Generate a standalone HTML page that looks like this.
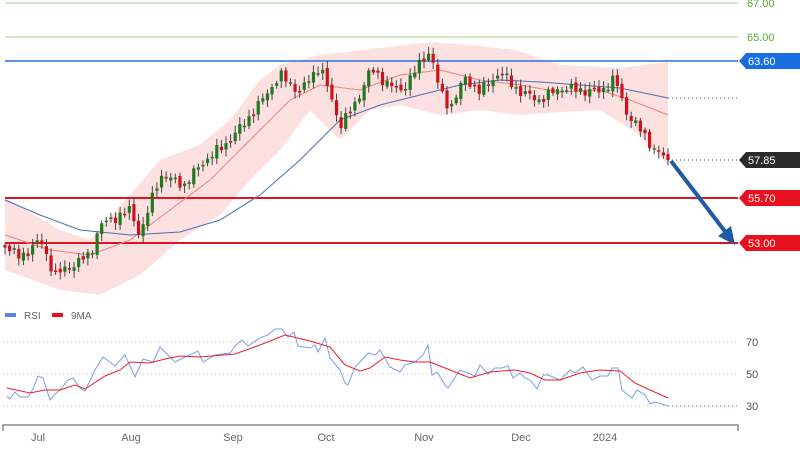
<!DOCTYPE html>
<html><head><meta charset="utf-8"><style>
html,body{margin:0;padding:0;background:#fff;width:800px;height:450px;overflow:hidden}
svg{display:block;font-family:"Liberation Sans",sans-serif}
</style></head><body>
<svg id="s" width="800" height="450" viewBox="0 0 800 450">
<polygon id="band" fill="#fde0e0" points=""/>
<line x1="5" y1="3" x2="738" y2="3" stroke="#9fd68a" stroke-width="1"/>
<line x1="5" y1="37" x2="738" y2="37" stroke="#9fd68a" stroke-width="1"/>
<text x="747" y="7" font-size="11" fill="#5aa832">67.00</text>
<text x="747" y="41" font-size="11" fill="#5aa832">65.00</text>
<line x1="5" y1="61" x2="738" y2="61" stroke="#2f6fd6" stroke-width="1.5"/>
<line x1="5" y1="198" x2="738" y2="198" stroke="#e0141e" stroke-width="2"/>
<line x1="5" y1="243" x2="738" y2="243" stroke="#e0141e" stroke-width="2"/>
<line x1="668" y1="98" x2="738" y2="98" stroke="#2f5fa0" stroke-width="1" stroke-dasharray="1,3"/>
<line x1="668" y1="160" x2="738" y2="160" stroke="#333" stroke-width="1" stroke-dasharray="1,3"/>
<polyline fill="none" stroke="#f08080" stroke-width="1" points="5,235 50,250 90,255 130,240 170,210 210,180 250,140 290,100 320,85 360,90 400,75 440,70 480,80 520,85 560,92 600,90 630,100 668,115"/>
<polyline fill="none" stroke="#4a70b0" stroke-width="1" points="5,200 40,215 80,230 130,235 180,232 220,220 260,195 300,160 340,120 380,105 420,95 460,85 500,80 540,82 580,85 620,88 668,98"/>
<g id="candles"></g>
<line x1="671" y1="161" x2="727" y2="234" stroke="#1f5ba3" stroke-width="4"/>
<polygon points="735,245 718,236 731,226" fill="#1f5ba3"/>
<polygon points="739,61 746,53 800,53 800,69 746,69" fill="#1a6fe0"/>
<text x="748" y="65" font-size="11" fill="#fff">63.60</text>
<polygon points="739,160 746,152 800,152 800,168 746,168" fill="#2b2b2b"/>
<text x="748" y="164" font-size="11" fill="#fff">57.85</text>
<polygon points="739,198 746,190 800,190 800,206 746,206" fill="#e8101c"/>
<text x="748" y="202" font-size="11" fill="#fff">55.70</text>
<polygon points="739,243 746,235 800,235 800,251 746,251" fill="#e8101c"/>
<text x="748" y="247" font-size="11" fill="#fff">53.00</text>
<rect x="5" y="313" width="11" height="4" fill="#5b86e0"/>
<text x="24" y="319" font-size="10" fill="#666">RSI</text>
<rect x="52" y="313" width="11" height="4" fill="#e8101c"/>
<text x="71" y="319" font-size="10" fill="#666">9MA</text>
<g stroke="#bbb" stroke-dasharray="1,3" stroke-width="1">
<line x1="3" y1="342" x2="738" y2="342"/><line x1="3" y1="374" x2="738" y2="374"/><line x1="3" y1="406" x2="668" y2="406"/></g>
<line x1="668" y1="406" x2="738" y2="406" stroke="#4a70d0" stroke-dasharray="1,3"/>
<text x="746" y="346" font-size="11" fill="#555">70</text>
<text x="746" y="378" font-size="11" fill="#555">50</text>
<text x="746" y="410" font-size="11" fill="#555">30</text>
<polyline fill="none" stroke="#7b9ee6" stroke-width="1" points="7,396 10,399 15,392 20,397 28,397 33,389 38,376 43,378 50,400 55,394 60,390 68,380 73,378 80,388 85,391 95,370 103,357 115,366 125,355 135,377 143,359 153,362 160,347 175,362 185,357 198,351 203,362 215,355 230,353 235,346 242,340 248,346 260,338 268,335 275,329 282,329 288,337 294,332 298,346 310,348 315,345 318,352 325,338 330,358 340,370 345,383 348,385 355,367 360,362 368,353 375,355 380,350 390,367 400,372 405,365 415,362 423,355 428,345 432,375 437,372 445,385 448,388 460,370 470,374 475,376 480,365 488,374 495,368 502,368 508,366 513,378 520,373 525,378 530,380 537,389 543,375 548,375 560,380 565,375 570,370 575,373 583,367 592,380 600,376 608,376 612,368 618,368 622,390 632,398 637,390 645,395 650,404 655,402 668,406"/>
<polyline fill="none" stroke="#e8202a" stroke-width="1" points="7,388 30,393 45,390 60,390 75,385 85,389 105,376 120,370 130,362 150,363 165,359 180,356 200,357 235,354 260,345 285,335 310,341 330,347 345,365 360,371 370,368 385,357 400,360 415,362 430,362 450,370 470,378 490,372 515,370 530,373 545,380 560,380 580,373 600,370 620,371 635,383 650,390 668,398"/>
<polyline fill="none" stroke="#888" stroke-width="1.5" points="3,431 3,425 738,425 738,431"/>
<g font-size="11" fill="#666" text-anchor="middle">
<text x="38" y="441">Jul</text><text x="131" y="441">Aug</text><text x="233" y="441">Sep</text><text x="326" y="441">Oct</text><text x="424" y="441">Nov</text><text x="521" y="441">Dec</text><text x="605" y="441">2024</text></g>
</svg>
<script>
function interp(pts,x){for(var i=1;i<pts.length;i++){if(x<=pts[i][0]){var a=pts[i-1],b=pts[i],t=(x-a[0])/(b[0]-a[0]);return a[1]+t*(b[1]-a[1]);}}return pts[pts.length-1][1];}
var up=[[5,198],[60,230],[90,240],[130,195],[160,160],[200,145],[230,120],[260,80],[280,65],[320,55],[380,48],[430,42],[470,45],[515,50],[560,65],[620,68],[668,62]];
var lo=[[5,270],[60,290],[100,295],[140,275],[180,240],[220,215],[250,180],[280,150],[310,110],[340,140],[370,110],[400,105],[440,115],[480,110],[520,115],[560,112],[600,110],[640,135],[668,165]];
var p=[];for(var x=5;x<=668;x+=3)p.push(x+","+interp(up,x));p.push("668,"+interp(up,668));
for(var x=668;x>=5;x-=3)p.push(x+","+interp(lo,x));
document.getElementById("band").setAttribute("points",p.join(" "));
var cy=[[5,245],[20,258],[40,240],[55,275],[90,255],[100,225],[130,210],[140,235],[160,175],[185,185],[200,165],[230,140],[255,110],[280,75],[300,92],[320,65],[340,125],[355,105],[370,70],[400,92],[430,50],[440,92],[450,108],[465,78],[480,92],[500,72],[520,92],[540,100],[560,88],[580,90],[600,92],[615,78],[625,110],[640,130],[655,150],[668,160]];
var g="",prev=interp(cy,5),N=145;
for(var i=0;i<N;i++){var x=5+i*(663/(N-1));var c=interp(cy,x)+Math.sin(i*2.7)*3.5+Math.cos(i*1.3)*2.5;if(i==N-1)c=160;
var o=prev+Math.sin(i*5.1)*2;var hi=Math.min(o,c)-2-Math.abs(Math.sin(i*3.3))*5,lw=Math.max(o,c)+2+Math.abs(Math.cos(i*2.1))*5;
var col=c<o?"#1f7a1f":"#d0101a";var t=Math.min(o,c),h=Math.max(Math.abs(c-o),1.5);
g+='<line x1="'+x+'" y1="'+hi+'" x2="'+x+'" y2="'+lw+'" stroke="#444" stroke-width="1"/><rect x="'+(x-1.6)+'" y="'+t+'" width="3.2" height="'+h+'" fill="'+col+'"/>';prev=c;}
document.getElementById("candles").innerHTML=g;
</script>
</body></html>
